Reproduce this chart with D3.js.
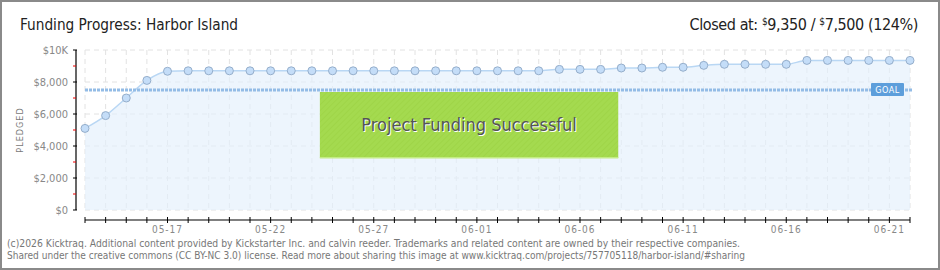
<!DOCTYPE html>
<html>
<head>
<meta charset="utf-8">
<script src="https://cdn.jsdelivr.net/npm/d3@7"></script>
<style>
  body { margin: 0; background: #fff; }
  svg { display: block; }
</style>
</head>
<body>
<div id="chart"></div>
<script>
// data
const startDay = new Date(2025, 4, 13);
const endDay = new Date(2025, 5, 22);
const pledged = [
  5100, 5900, 7000, 8100, 8670,
  8700, 8700, 8700, 8700, 8700, 8700, 8700, 8700, 8700,
  8700, 8700, 8700, 8700, 8700, 8700, 8700, 8700, 8700,
  8790, 8790, 8790, 8875, 8875, 8920, 8920, 9040,
  9105, 9105, 9105, 9105,
  9350, 9350, 9350, 9350, 9350, 9350
];
const goal = 7500;
const yMajorTicks = [0, 2000, 4000, 6000, 8000, 10000];
const yTickLabels = ["$0", "$2,000", "$4,000", "$6,000", "$8,000", "$10K"];
const yMinorTicks = [1000, 3000, 5000, 7000, 9000];
const xLabelDates = ["05-17", "05-22", "05-27", "06-01", "06-06", "06-11", "06-16", "06-21"];
const titleText = "Funding Progress: Harbor Island";
const closedAt = "9,350";
const goalText = "7,500";
const percentText = "(124%)";
const footer = [
  "(c)2026 Kicktraq. Additional content provided by Kickstarter Inc. and calvin reeder. Trademarks and related content are owned by their respective companies.",
  "Shared under the creative commons (CC BY-NC 3.0) license. Read more about sharing this image at www.kicktraq.com/projects/757705118/harbor-island/#sharing"
];

const days = d3.timeDay.range(startDay, d3.timeDay.offset(endDay, 1));
const data = days.map((d, i) => ({ date: d, value: pledged[i] }));

const W = 940, H = 270;
const plotL = 85, plotR = 910, plotT = 50, plotB = 210;
const font = "'DejaVu Sans Condensed', 'DejaVu Sans', sans-serif";

const svg = d3.select("#chart").append("svg")
  .attr("width", W).attr("height", H);

// outer frame
svg.append("rect")
  .attr("x", 1).attr("y", 1).attr("width", W - 2).attr("height", H - 2)
  .attr("fill", "#fff").attr("stroke", "#8a8a8a").attr("stroke-width", 2);

const x = d3.scaleTime().domain([startDay, endDay]).range([plotL, plotR]);
const y = d3.scaleLinear().domain([0, 10000]).range([plotB, plotT]);

// grid
svg.append("g")
  .selectAll("line").data(days).enter().append("line")
  .attr("x1", d => x(d)).attr("x2", d => x(d))
  .attr("y1", plotT).attr("y2", plotB)
  .attr("stroke", "#e2e2e2").attr("stroke-dasharray", "5,4");

svg.append("g")
  .selectAll("line").data(yMajorTicks).enter().append("line")
  .attr("x1", plotL).attr("x2", plotR)
  .attr("y1", d => y(d)).attr("y2", d => y(d))
  .attr("stroke", "#e2e2e2").attr("stroke-dasharray", "5,4");

// area + line
const area = d3.area()
  .x(d => x(d.date)).y0(y(0)).y1(d => y(d.value))
  .curve(d3.curveMonotoneX);
const line = d3.line()
  .x(d => x(d.date)).y(d => y(d.value))
  .curve(d3.curveMonotoneX);

svg.append("path").datum(data)
  .attr("d", area).attr("fill", "#e3effc").attr("fill-opacity", 0.65);
svg.append("path").datum(data)
  .attr("d", line).attr("fill", "none")
  .attr("stroke", "#b9d7f4").attr("stroke-width", 1.5);

// goal line
svg.append("line")
  .attr("x1", plotL).attr("x2", plotR + 3)
  .attr("y1", y(goal)).attr("y2", y(goal))
  .attr("stroke", "#93bce6").attr("stroke-width", 3)
  .attr("stroke-dasharray", "3,1");

// points
svg.append("g")
  .selectAll("circle").data(data).enter().append("circle")
  .attr("cx", d => x(d.date)).attr("cy", d => y(d.value))
  .attr("r", 4)
  .attr("fill", "#c4ddf8").attr("stroke", "#95aecb").attr("stroke-width", 1);

// goal tag
const gx = x(endDay) - 39, gy = y(goal) - 7;
svg.append("rect")
  .attr("x", gx).attr("y", gy).attr("width", 33).attr("height", 13)
  .attr("rx", 1).attr("fill", "#5d9edb");
svg.append("text")
  .attr("x", gx + 16.5).attr("y", gy + 10)
  .attr("text-anchor", "middle")
  .style("font-family", font).style("font-size", "9px")
  .style("letter-spacing", "0.5px")
  .attr("fill", "#fff").text("GOAL");

// success banner
const bx0 = x(d3.timeDay.offset(startDay, 11)) + 8;
const bx1 = x(d3.timeDay.offset(startDay, 26)) - 3;
const by0 = y(goal) + 2, by1 = y(3250);
const defs = svg.append("defs");
const pat = defs.append("pattern")
  .attr("id", "stripes").attr("width", 4).attr("height", 4)
  .attr("patternUnits", "userSpaceOnUse")
  .attr("patternTransform", "rotate(45)");
pat.append("rect").attr("width", 4).attr("height", 4).attr("fill", "#a4da4f");
pat.append("rect").attr("width", 1).attr("height", 4).attr("fill", "#9fd548");
svg.append("rect")
  .attr("x", bx0).attr("y", by0).attr("width", bx1 - bx0).attr("height", by1 - by0)
  .attr("fill", "url(#stripes)");
svg.append("rect")
  .attr("x", bx0).attr("y", by1 - 1).attr("width", bx1 - bx0).attr("height", 1.5)
  .attr("fill", "#c3ec84");
svg.append("text")
  .attr("x", (bx0 + bx1) / 2 + 1).attr("y", (by0 + by1) / 2 + 7)
  .attr("text-anchor", "middle")
  .style("font-family", font).style("font-size", "18px")
  .attr("fill", "#fff").text("Project Funding Successful");
svg.append("text")
  .attr("x", (bx0 + bx1) / 2).attr("y", (by0 + by1) / 2 + 6)
  .attr("text-anchor", "middle")
  .style("font-family", font).style("font-size", "18px")
  .attr("fill", "#555").text("Project Funding Successful");

// y axis
svg.append("line")
  .attr("x1", 76).attr("x2", 76).attr("y1", plotT).attr("y2", plotB)
  .attr("stroke", "#000").attr("stroke-width", 1.2);
svg.append("g").selectAll("line").data(yMajorTicks).enter().append("line")
  .attr("x1", 73).attr("x2", 77).attr("y1", d => y(d)).attr("y2", d => y(d))
  .attr("stroke", "#000");
svg.append("g").selectAll("line").data(yMinorTicks).enter().append("line")
  .attr("x1", 73).attr("x2", 76).attr("y1", d => y(d)).attr("y2", d => y(d))
  .attr("stroke", "#e00");
svg.append("g").selectAll("text").data(yMajorTicks).enter().append("text")
  .attr("x", 68).attr("y", d => y(d) + 4)
  .attr("text-anchor", "end")
  .style("font-family", font).style("font-size", "11px")
  .attr("fill", "#888")
  .text((d, i) => yTickLabels[i]);

svg.append("text")
  .attr("transform", `translate(23, ${(plotT + plotB) / 2}) rotate(-90)`)
  .attr("text-anchor", "middle")
  .style("font-family", font).style("font-size", "9px")
  .style("letter-spacing", "1px")
  .attr("fill", "#777").text("PLEDGED");

// x axis
svg.append("line")
  .attr("x1", plotL).attr("x2", plotR).attr("y1", 220).attr("y2", 220)
  .attr("stroke", "#000").attr("stroke-width", 1.2);
svg.append("g").selectAll("line").data(days).enter().append("line")
  .attr("x1", d => x(d)).attr("x2", d => x(d)).attr("y1", 217).attr("y2", 223)
  .attr("stroke", "#000");
const fmt = d3.timeFormat("%m-%d");
svg.append("g").selectAll("text")
  .data(days.filter(d => xLabelDates.includes(fmt(d)))).enter().append("text")
  .attr("x", d => x(d)).attr("y", 233)
  .attr("text-anchor", "middle")
  .style("font-family", font).style("font-size", "10px")
  .style("letter-spacing", "1px")
  .attr("fill", "#888").text(d => fmt(d));

// titles
svg.append("text")
  .attr("x", 20).attr("y", 30)
  .attr("textLength", 218).attr("lengthAdjust", "spacingAndGlyphs")
  .style("font-family", font).style("font-size", "16px")
  .attr("fill", "#222").text(titleText);

const rt = svg.append("text")
  .attr("x", 918).attr("y", 30).attr("text-anchor", "end")
  .style("font-family", font).style("font-size", "16px")
  .style("letter-spacing", "-0.4px")
  .attr("fill", "#222");
rt.append("tspan").text("Closed at:  ");
rt.append("tspan").style("font-size", "10px").attr("dy", -5).text("$");
rt.append("tspan").attr("dy", 5).text(closedAt + " /  ");
rt.append("tspan").style("font-size", "10px").attr("dy", -5).text("$");
rt.append("tspan").attr("dy", 5).text(goalText + " " + percentText);

// footer
svg.append("g").selectAll("text").data(footer).enter().append("text")
  .attr("x", 7).attr("y", (d, i) => 247 + i * 12)
  .attr("textLength", (d, i) => i === 0 ? 733 : 738)
  .attr("lengthAdjust", "spacingAndGlyphs")
  .style("font-family", font).style("font-size", "10px")
  .attr("fill", "#777").text(d => d);
</script>
</body>
</html>
